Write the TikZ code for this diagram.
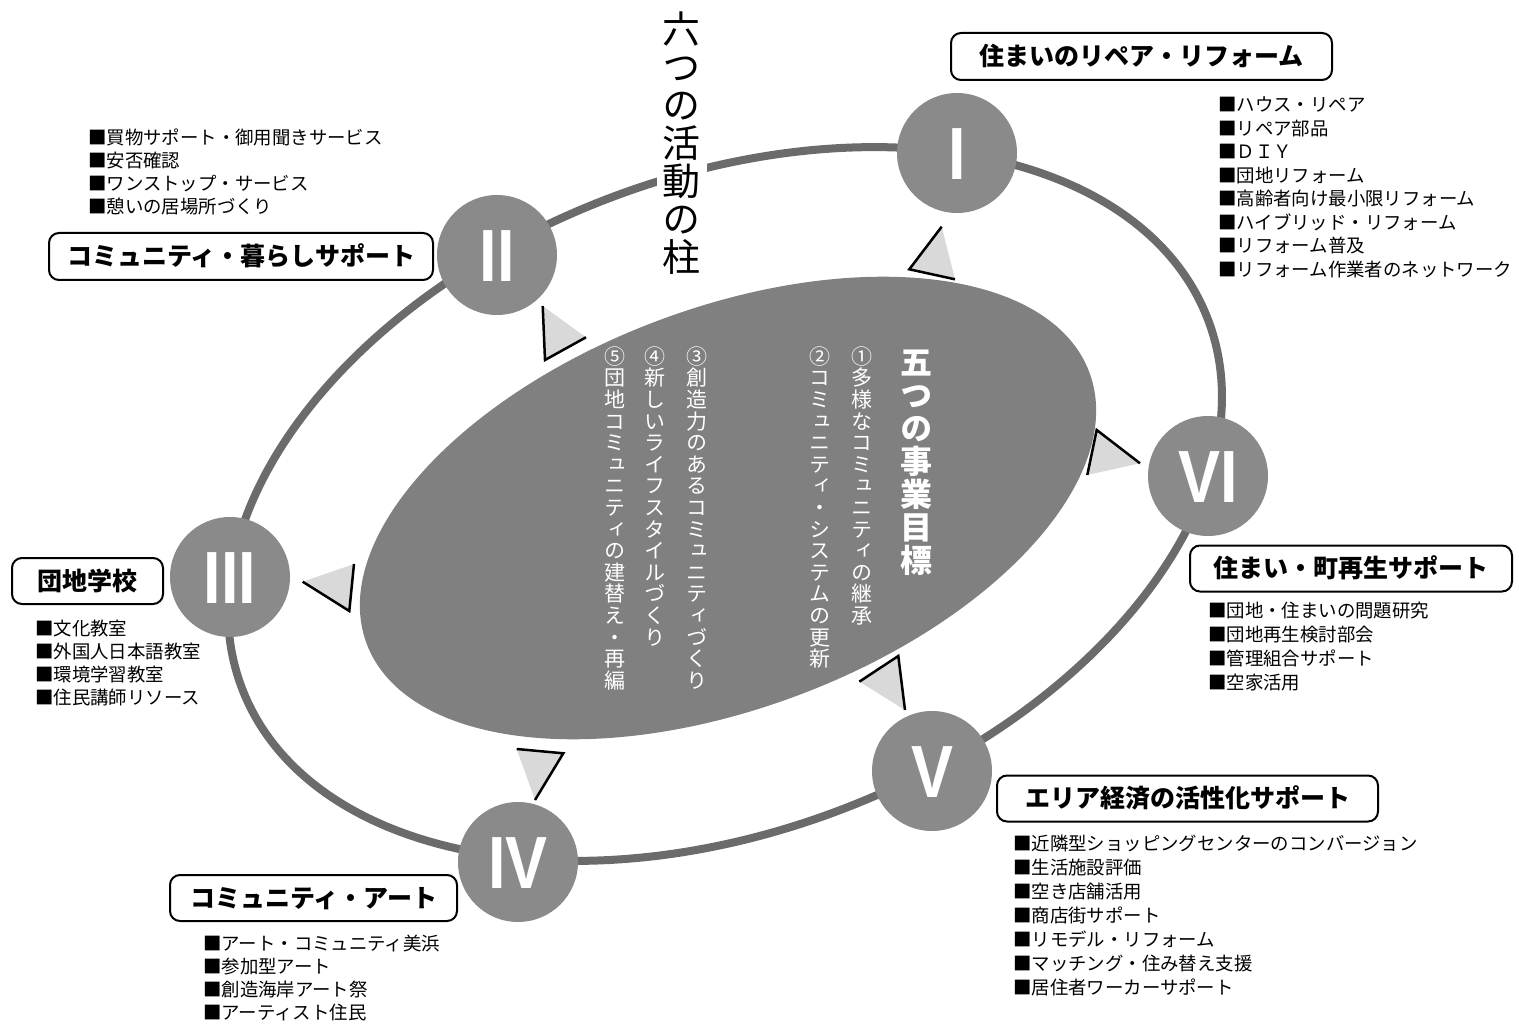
\documentclass[tikz,border=0pt]{standalone}
\usepackage{fontspec}
\setmainfont{Noto Sans CJK JP}
\newfontfamily\vjp[RawFeature=+vert]{Noto Sans CJK JP}
\newfontfamily\romanfont[FakeStretch=0.85]{Liberation Sans}
\definecolor{ringgray}{HTML}{6B6B6B}
\definecolor{circgray}{HTML}{8A8A8A}
\definecolor{innergray}{HTML}{808080}
\definecolor{trigray}{HTML}{D9D9D9}
\ExplSyntaxOn
\NewDocumentCommand\vstack{mmm}{\vbox{\offinterlineskip\kern #2 \tl_map_inline:nn{#3}{\hbox to #1{\hss\smash{##1}\hss}\kern #1}\kern -#1 \kern 0.2em}}
\ExplSyntaxOff
\tikzset{
  ring/.style={draw=ringgray, line width=8pt},
  pillar/.style={circle, fill=circgray, minimum size=120pt, inner sep=0pt, text=white,
    font=\romanfont\bfseries\fontsize{74}{74}\selectfont, text height=53pt, text depth=0pt},
  tagbox/.style={draw=black, line width=2pt, rounded corners=10pt, fill=white, inner sep=0pt,
    minimum height=47pt, font=\bfseries\fontsize{25}{25}\selectfont, text height=21pt, text depth=3pt},
  item/.style={anchor=west, inner sep=0pt, font=\fontsize{18.4}{23}\selectfont, text height=16.2pt, text depth=2.2pt},
  tri/.style={fill=trigray},
  triedge/.style={draw=black, line width=2.5pt, line join=miter},
  titlebox/.style={anchor=north, fill=white, inner xsep=6pt, inner ysep=2pt, font=\vjp\fontsize{38}{38}\selectfont},
  goal/.style={anchor=north, inner sep=0pt, text=white, font=\vjp\bfseries\fontsize{32}{32}\selectfont},
  aim/.style={anchor=north, inner sep=0pt, text=white, font=\vjp\fontsize{21}{21}\selectfont}
}
\begin{document}
\begin{tikzpicture}[x=1pt,y=-1pt]
\useasboundingbox (0,0) rectangle (1519,1024);
% outer ring
\draw[ring, rotate around={20.9:(725,504)}] (725,504) ellipse [x radius=517, y radius=327];
% title
\node[titlebox] (title) at (681.7,7.5) {\vstack{38pt}{33.4pt}{六つの活動の柱}};
% pillars
\node[pillar] (p1) at (957,153) {I};
\node[pillar] (p2) at (497,255) {II};
\node[pillar] (p3) at (230,577) {III};
\node[pillar] (p4) at (518,862) {IV};
\node[pillar] (p5) at (932,771) {V};
\node[pillar] (p6) at (1208,476) {VI};
% inner ellipse
\fill[innergray, rotate around={20.6:(728,508)}] (728,508) ellipse [x radius=386, y radius=200];
% triangles
\fill[tri] (941.7,226.7) -- (909.3,269.3) -- (955,279.3) -- cycle;
\draw[triedge] (941.7,226.7) -- (909.3,269.3) -- (955,279.3);
\fill[tri] (542.7,306) -- (545,360) -- (586,337.3) -- cycle;
\draw[triedge] (542.7,306) -- (545,360) -- (586,337.3);
\fill[tri] (302.7,581.7) -- (349.3,611) -- (354,564) -- cycle;
\draw[triedge] (302.7,581.7) -- (349.3,611) -- (354,564);
\fill[tri] (535,800) -- (563.3,753.3) -- (516.7,749) -- cycle;
\draw[triedge] (535,800) -- (563.3,753.3) -- (516.7,749);
\fill[tri] (905,710) -- (898.3,656) -- (859.3,681.7) -- cycle;
\draw[triedge] (905,710) -- (898.3,656) -- (859.3,681.7);
\fill[tri] (1140,463.3) -- (1096.7,430) -- (1087.3,475) -- cycle;
\draw[triedge] (1140,463.3) -- (1096.7,430) -- (1087.3,475);
% inner texts
\node[goal] (goal) at (916,346.4) {\vstack{33pt}{28.2pt}{五つの事業目標}};
\node[aim] (a1) at (861.7,345.5) {\vstack{21.6pt}{18.5pt}{①多様なコミュニティの継承}};
\node[aim] (a2) at (820,345.5) {\vstack{21.6pt}{18.5pt}{②コミュニティ・システムの更新}};
\node[aim] (a3) at (696.7,345.5) {\vstack{21.6pt}{18.5pt}{③創造力のあるコミュニティづくり}};
\node[aim] (a4) at (655,345.5) {\vstack{21.6pt}{18.5pt}{④新しいライフスタイルづくり}};
\node[aim] (a5) at (615,345.5) {\vstack{21.6pt}{18.5pt}{⑤団地コミュニティの建替え・再編}};
% label boxes
\node[tagbox, minimum width=381pt] (b1) at (1141.5,56.5) {住まいのリペア・リフォーム};
\node[tagbox, minimum width=384pt] (b2) at (241,256.5) {コミュニティ・暮らしサポート};
\node[tagbox, minimum width=151pt, minimum height=46pt] (b3) at (87.5,581) {団地学校};
\node[tagbox, minimum width=287pt, minimum height=46pt] (b4) at (313.5,898) {コミュニティ・アート};
\node[tagbox, minimum width=381pt, minimum height=46pt] (b5) at (1187.5,798.5) {エリア経済の活性化サポート};
\node[tagbox, minimum width=322pt, minimum height=46pt] (b6) at (1351,568.5) {住まい・町再生サポート};
% lists
\foreach \t [count=\i] in {ハウス・リペア,リペア部品,ＤＩＹ,団地リフォーム,高齢者向け最小限リフォーム,ハイブリッド・リフォーム,リフォーム普及,リフォーム作業者のネットワーク}
  \node[item] (l1-\i) at (1218,{105+(\i-1)*23.5}) {■\t};
\foreach \t [count=\i] in {買物サポート・御用聞きサービス,安否確認,ワンストップ・サービス,憩いの居場所づくり}
  \node[item] (l2-\i) at (88,{138+(\i-1)*23}) {■\t};
\foreach \t [count=\i] in {文化教室,外国人日本語教室,環境学習教室,住民講師リソース}
  \node[item] (l3-\i) at (35,{628.5+(\i-1)*23}) {■\t};
\foreach \t [count=\i] in {アート・コミュニティ美浜,参加型アート,創造海岸アート祭,アーティスト住民}
  \node[item] (l4-\i) at (203,{943+(\i-1)*23}) {■\t};
\foreach \t [count=\i] in {近隣型ショッピングセンターのコンバージョン,生活施設評価,空き店舗活用,商店街サポート,リモデル・リフォーム,マッチング・住み替え支援,居住者ワーカーサポート}
  \node[item] (l5-\i) at (1013,{843+(\i-1)*24}) {■\t};
\foreach \t [count=\i] in {団地・住まいの問題研究,団地再生検討部会,管理組合サポート,空家活用}
  \node[item] (l6-\i) at (1208,{610+(\i-1)*24.3}) {■\t};
\end{tikzpicture}
\end{document}
